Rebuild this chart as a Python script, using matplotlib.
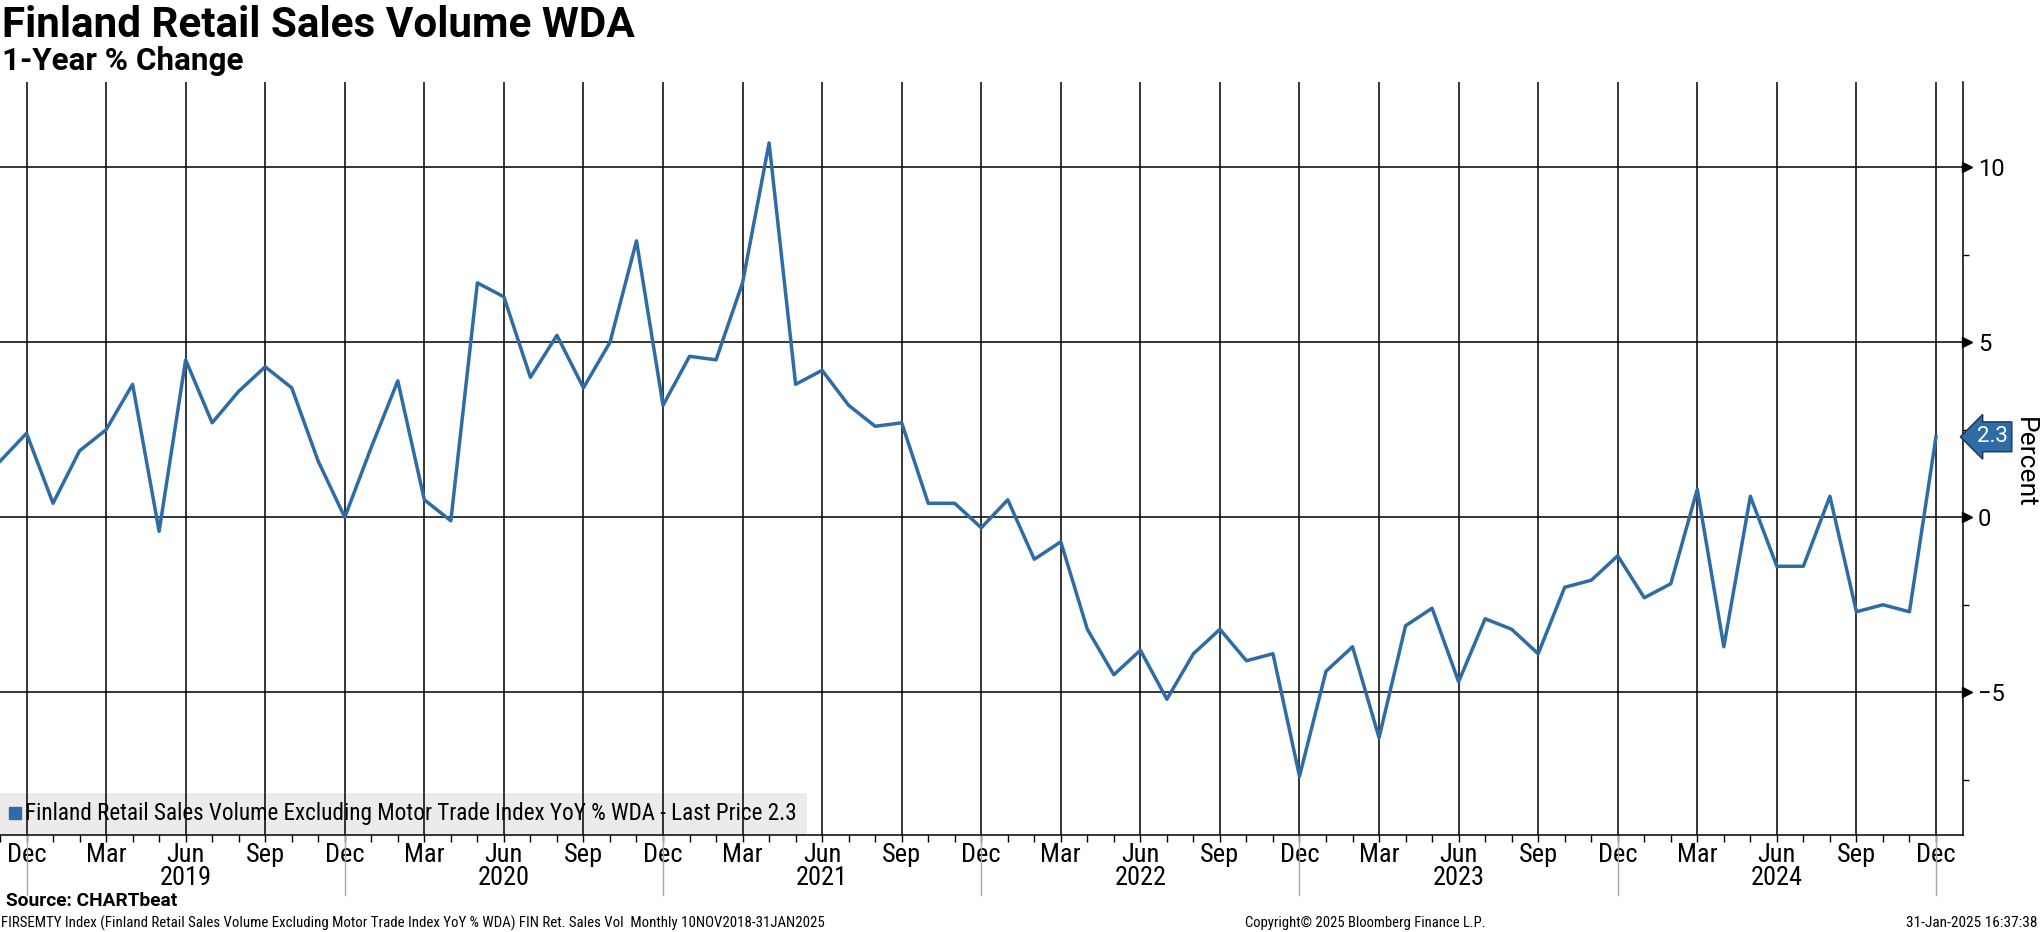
import matplotlib
matplotlib.use("Agg")
import numpy as np
import pandas as pd
import matplotlib.pyplot as plt
import matplotlib.transforms as mtransforms
from matplotlib import font_manager
from matplotlib.lines import Line2D
from matplotlib.ticker import MultipleLocator

## monthly YoY % readings, Nov 2018 .. Dec 2024 ##
periods = pd.period_range("2018-11", "2024-12", freq="M")
yoy_values = [
    1.6, 2.4,
    0.4, 1.9, 2.5, 3.8, -0.4, 4.5, 2.7, 3.6, 4.3, 3.7, 1.6, 0.0,
    2.0, 3.9, 0.5, -0.1, 6.7, 6.3, 4.0, 5.2, 3.7, 5.0, 7.9, 3.2,
    4.6, 4.5, 6.7, 10.7, 3.8, 4.2, 3.2, 2.6, 2.7, 0.4, 0.4, -0.3,
    0.5, -1.2, -0.7, -3.2, -4.5, -3.8, -5.2, -3.9, -3.2, -4.1, -3.9, -7.4,
    -4.4, -3.7, -6.3, -3.1, -2.6, -4.7, -2.9, -3.2, -3.9, -2.0, -1.8, -1.1,
    -2.3, -1.9, 0.8, -3.7, 0.6, -1.4, -1.4, 0.6, -2.7, -2.5, -2.7, 2.3,
]
quarter_months = [3, 6, 9, 12]
y_ticks = [-5, 0, 5, 10]

series_name = "Finland Retail Sales Volume Excluding Motor Trade Index YoY % WDA"
title = "Finland Retail Sales Volume WDA"
subtitle = "1-Year % Change"
source = "Source: CHARTbeat"
footer_left = ("FIRSEMTY Index (Finland Retail Sales Volume Excluding Motor Trade Index YoY % WDA) "
               "FIN Ret. Sales Vol  Monthly 10NOV2018-31JAN2025")
footer_mid = "Copyright\u00a9 2025 Bloomberg Finance L.P."
footer_right = "31-Jan-2025 16:37:38"

BLUE = "#2d6ca5"
W, H = 2041, 932

## pick a narrow face if one is around, Bloomberg text is condensed ##
installed = {f.name for f in font_manager.fontManager.ttflist}
FONT = next((f for f in ["Liberation Sans Narrow", "Roboto Condensed", "DejaVu Sans Condensed"]
             if f in installed), "DejaVu Sans")
HEAD_FONT = "Roboto" if "Roboto" in installed else "DejaVu Sans"
plt.rcParams["font.family"] = [FONT, "DejaVu Sans"]
plt.rcParams["font.stretch"] = "condensed"

fig = plt.figure(figsize=(W / 100, H / 100), dpi=100)
ax = fig.add_axes([0, (H - 835) / H, 1962.5 / W, (835 - 82) / H])


def fit_width(txt, width_px):
    renderer = fig.canvas.get_renderer()
    w = txt.get_window_extent(renderer).width
    txt.set_fontsize(txt.get_fontsize() * width_px / w)


x = np.arange(len(periods))
ax.plot(x, yoy_values, color=BLUE, lw=2.5, zorder=3)

ax.set_xlim(0, len(periods))
ax.set_ylim(-9.08, 12.44)

## x axis: quarter grid, month minor ticks, years underneath ##
q_idx = [i for i, p in enumerate(periods) if p.month in quarter_months]
ax.set_xticks(q_idx)
ax.set_xticklabels([periods[i].strftime("%b") for i in q_idx])
ax.set_xticks(x, minor=True)
ax.xaxis.remove_overlapping_locs = False
ax.tick_params(axis="x", which="major", length=0, pad=6, labelsize=19)
ax.tick_params(axis="x", which="minor", length=5, width=1, color="black", direction="out")

xtr = ax.get_xaxis_transform()
for i, p in enumerate(periods):
    if p.month == 6:
        ax.text(i, -0.057, str(p.year), transform=xtr, ha="center", va="center", fontsize=19)
    if p.month == 12:
        ax.plot([i, i], [0, -0.08], transform=xtr, color="#a8a8a8", lw=1, clip_on=False)

## y axis on the right ##
ax.yaxis.tick_right()
ax.set_yticks(y_ticks)
ax.yaxis.set_minor_locator(MultipleLocator(2.5))
ax.tick_params(axis="y", which="major", length=0, pad=11, labelsize=17)
ax.tick_params(axis="y", which="minor", length=4, width=1, direction="out", color="black")
for lab in ax.get_yticklabels():
    lab.set_family(HEAD_FONT)
    lab.set_stretch("normal")
tri_tr = mtransforms.offset_copy(ax.get_yaxis_transform(), fig=fig, x=4, units="dots")
ax.plot([1] * len(y_ticks), y_ticks, ls="none", marker=">", ms=7, color="black",
        transform=tri_tr, clip_on=False)

ax.grid(True, which="major", color="black", lw=1.1)
for side in ["left", "top"]:
    ax.spines[side].set_visible(False)
for side in ["right", "bottom"]:
    ax.spines[side].set_linewidth(1.1)

fig.text(2025 / W, (H - 462) / H, "Percent", rotation=270, ha="center", va="center",
         fontsize=19, family=HEAD_FONT, stretch="normal")

## last price tag ##
last = yoy_values[-1]
tag_tr = mtransforms.offset_copy(ax.get_yaxis_transform(), fig=fig, x=14, units="dots")
ax.text(1, last, f"{last:.1f}", transform=tag_tr, ha="left", va="center", color="white",
        fontsize=16, family=HEAD_FONT, stretch="normal", clip_on=False, zorder=6,
        bbox=dict(boxstyle="larrow,pad=0.2", fc=BLUE, ec="#16365c", lw=1))

## legend sits under the grid like the original ##
handle = Line2D([], [], ls="none", marker="s", ms=8, color=BLUE)
leg = ax.legend([handle], [f"{series_name} - Last Price {last:.1f}"], loc="lower left",
                bbox_to_anchor=(0, 0), borderaxespad=0, fontsize=14, fancybox=False,
                facecolor="#ebebeb", edgecolor="none", framealpha=1,
                handlelength=0.5, handletextpad=0.3, borderpad=0.5)
leg.set_zorder(1)
fit_width(leg.get_texts()[0], 775)

## titles and footer ##
t = fig.text(2 / W, 1 - 37 / H, title, weight="bold", va="baseline", fontsize=26,
             family=HEAD_FONT, stretch="normal")
fit_width(t, 634)
t = fig.text(2 / W, 1 - 70 / H, subtitle, weight="bold", va="baseline", fontsize=19,
             family=HEAD_FONT, stretch="normal")
fit_width(t, 241)
t = fig.text(6 / W, 1 - 901 / H, source, weight="bold", va="center", fontsize=14,
             family=HEAD_FONT, stretch="normal")
fit_width(t, 172)
t = fig.text(1 / W, 1 - 923 / H, footer_left, va="center", fontsize=10)
fit_width(t, 823)
t = fig.text(1365 / W, 1 - 923 / H, footer_mid, ha="center", va="center", fontsize=10)
fit_width(t, 238)
t = fig.text(2038 / W, 1 - 923 / H, footer_right, ha="right", va="center", fontsize=10)
fit_width(t, 130)

fig.savefig("out.png", dpi=100)
